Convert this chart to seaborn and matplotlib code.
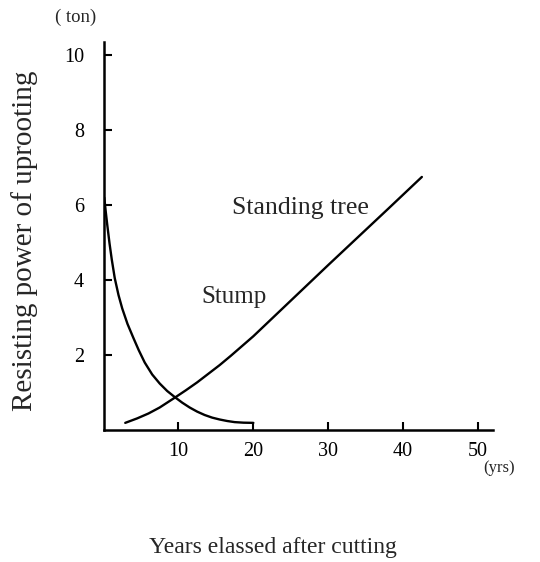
import matplotlib
matplotlib.use("Agg")
import matplotlib.pyplot as plt
import seaborn as sns
import pandas as pd

# Data
stump_years = [0.1, 0.3, 0.5, 0.8, 1.1, 1.5, 2.0, 2.5, 3.2, 4.0, 4.7, 5.5, 6.5,
               7.5, 8.5, 9.5, 10.5, 11.5, 12.5, 13.5, 14.5, 15.5, 16.5, 17.5,
               18.7, 20.0]
stump_power = [6.2, 5.82, 5.47, 4.98, 4.55, 4.05, 3.6, 3.24, 2.83, 2.45, 2.13,
               1.8, 1.48, 1.24, 1.04, 0.88, 0.73, 0.6, 0.49, 0.4, 0.33, 0.28,
               0.24, 0.21, 0.195, 0.19]

tree_years = [2.9, 4.5, 6.0, 7.5, 9.5, 11.0, 12.5, 14.0, 15.5, 17.0, 18.5, 20.0,
              22.0, 26.0, 30.0, 34.0, 38.0, 42.5]
tree_power = [0.19, 0.31, 0.44, 0.6, 0.86, 1.06, 1.27, 1.5, 1.73, 1.98, 2.24,
              2.5, 2.88, 3.64, 4.4, 5.15, 5.9, 6.75]

x_ticks = [10, 20, 30, 40, 50]
y_ticks = [2, 4, 6, 8, 10]

df = pd.concat([
    pd.DataFrame({"years": stump_years, "power": stump_power, "series": "Stump"}),
    pd.DataFrame({"years": tree_years, "power": tree_power, "series": "Standing tree"}),
])

sns.set_style("ticks")
plt.rcParams["font.family"] = ["Liberation Serif", "DejaVu Serif"]

fig = plt.figure(figsize=(5.4, 5.62), dpi=100)
ax = fig.add_axes([0.1917, 0.2349, 0.7213, 0.6904])

sns.lineplot(data=df, x="years", y="power", units="series", estimator=None,
             color="black", linewidth=1.7, sort=False, legend=False, ax=ax,
             solid_joinstyle="round", solid_capstyle="round")

ax.set_xlim(0, 52)
ax.set_ylim(0, 10.35)
ax.set_xticks(x_ticks)
ax.set_yticks(y_ticks)
ax.set_xticklabels([str(t) for t in x_ticks], fontsize=14.5)
ax.set_yticklabels([str(t) for t in y_ticks], fontsize=14.5)
ax.tick_params(axis="both", direction="in", length=6, width=1.5, colors="black")
ax.tick_params(axis="y", pad=14)
ax.tick_params(axis="x", pad=9)

for side in ["top", "right"]:
    ax.spines[side].set_visible(False)
for side in ["left", "bottom"]:
    ax.spines[side].set_linewidth(1.8)
    ax.spines[side].set_color("black")

ax.set_xlabel("")
ax.set_ylabel("")

ax.text(17.1, 5.92, "Standing tree", fontsize=18.5, va="center", ha="left")
ax.text(13.1, 3.55, "Stump", fontsize=18, va="center", ha="left")

fig.text(76 / 540, 1 - 17 / 562, "( ton)", fontsize=13.5, ha="center", va="center")
fig.text(499 / 540, 1 - 468 / 562, "(yrs)", fontsize=12, ha="center", va="center")
fig.text(25 / 540, 1 - 241 / 562, "Resisting power of uprooting", fontsize=21,
         rotation=90, ha="center", va="center")
fig.text(273 / 540, 1 - 548 / 562, "Years elassed after cutting", fontsize=17,
         ha="center", va="center")

fig.savefig("out.png", dpi=100, facecolor="white")
